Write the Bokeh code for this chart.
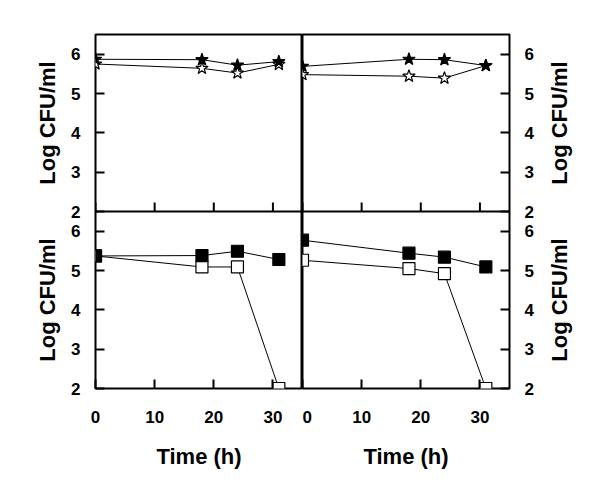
import math
from bokeh.plotting import figure
from bokeh.layouts import gridplot
from bokeh.models import (FixedTicker, LinearAxis, Range1d, Span,
                          CustomJSTickFormatter)
from bokeh.core.properties import value
from bokeh.embed import file_html
from bokeh.resources import INLINE

# ---- data ----
time_h = [0, 18, 24, 31]
tl_filled = [5.87, 5.86, 5.72, 5.81]
tl_open = [5.75, 5.64, 5.52, 5.74]
tr_filled = [5.69, 5.87, 5.86, 5.71]
tr_open = [5.48, 5.44, 5.39, 5.71]
bl_filled = [5.37, 5.38, 5.49, 5.28]
bl_open = [5.37, 5.09, 5.09, 2.0]
br_filled = [5.77, 5.44, 5.34, 5.09]
br_open = [5.26, 5.05, 4.92, 2.0]
x_ticks = [0, 10, 20, 30]
y_ticks = [2, 3, 4, 5, 6]
x_limits = (0, 35)
y_limits = (2, 6.5)
y_label = "Log CFU/ml"
x_label = "Time (h)"

FONT = "Liberation Sans"
SPAN = y_limits[1] - y_limits[0]          # height of one panel in data units
FULL = (y_limits[0], y_limits[1] + SPAN)   # bottom panel + stacked top panel
TOP_RANGE = (y_limits[0] - SPAN, y_limits[1])

H = 478
TOP_B, BOT_B = 34, 90


def base_fig(width, left, right, xr=None):
    p = figure(width=width, height=H,
               x_range=Range1d(*(xr or x_limits)), y_range=Range1d(*FULL),
               output_backend="svg", toolbar_location=None,
               x_axis_location=None, y_axis_location=None,
               min_border_left=left, min_border_right=right,
               min_border_top=TOP_B, min_border_bottom=BOT_B)
    for g in p.grid:
        g.visible = False
    p.background_fill_color = "white"
    p.border_fill_color = "white"
    return p


def style_axis(ax):
    ax.axis_line_color = None
    ax.major_tick_in = 9
    ax.major_tick_out = 0
    ax.major_tick_line_width = 2
    ax.major_tick_line_color = "black"
    ax.minor_tick_line_color = None
    ax.major_label_text_font = FONT
    ax.major_label_text_font_style = "bold"
    ax.major_label_text_color = "black"
    ax.major_label_text_font_size = "17px"
    ax.axis_label_text_font = FONT
    ax.axis_label_text_font_style = "bold"
    ax.axis_label_text_font_size = "22px"
    ax.axis_label_text_color = "black"
    return ax


def panel_fig(width, left, right, side, bottom_open, bottom_filled,
              top_open, top_filled):
    p = base_fig(width, left, right)
    p.outline_line_color = "black"
    p.outline_line_width = 2
    p.extra_y_ranges = {"top": Range1d(*TOP_RANGE)}

    # y axis: ticks of the lower panel and of the stacked upper panel
    yt = list(y_ticks) + [t + SPAN for t in y_ticks]
    yax = LinearAxis(ticker=FixedTicker(ticks=yt))
    yax.formatter = CustomJSTickFormatter(
        args=dict(split=y_limits[1], span=SPAN),
        code="const v = (tick >= split - 1e-6) ? tick - span : tick; return v.toFixed(0);")
    style_axis(yax)
    yax.major_label_standoff = 15
    p.add_layout(yax, side)

    # x axis of the lower panel
    xax = LinearAxis(ticker=FixedTicker(ticks=x_ticks), axis_label=x_label)
    style_axis(xax)
    xax.major_label_standoff = 22
    xax.axis_label_standoff = 18
    p.add_layout(xax, "below")

    # boundary line between the two panels
    p.add_layout(Span(location=y_limits[1], dimension="width",
                      line_color="black", line_width=2))
    # inward x ticks on the bottom edge of the upper panel
    p.ray(x=x_ticks, y=[y_limits[0]] * len(x_ticks), length=9,
          length_units="screen", angle=math.pi / 2,
          line_color="black", line_width=2, y_range_name="top")

    # lower panel: squares
    p.line(time_h, bottom_open, line_color="black", line_width=1)
    p.line(time_h, bottom_filled, line_color="black", line_width=1)
    p.scatter(time_h, bottom_open, marker="square", size=12,
              fill_color="white", line_color="black", line_width=1.2)
    p.scatter(time_h, bottom_filled, marker="square", size=12,
              fill_color="black", line_color="black", line_width=1.2)
    # upper panel: stars
    p.line(time_h, top_open, line_color="black", line_width=1, y_range_name="top")
    p.line(time_h, top_filled, line_color="black", line_width=1, y_range_name="top")
    p.scatter(time_h, top_open, marker="star", size=13, fill_color="white",
              line_color="black", line_width=1.2, y_range_name="top")
    p.scatter(time_h, top_filled, marker="star", size=13, fill_color="black",
              line_color="black", line_width=1.2, y_range_name="top")
    return p


def label_fig(width, left):
    p = base_fig(width, left, 0, xr=(0, 1))
    p.outline_line_color = None
    c = (y_limits[0] + y_limits[1]) / 2
    p.text(x=[0.5, 0.5], y=[c, c + SPAN], text=[y_label, y_label],
           angle=math.pi / 2, text_align="center", text_baseline="middle",
           text_font=value(FONT), text_font_style="bold",
           text_font_size="22px", text_color="black")
    return p


lab_l = label_fig(64, 30)
left = panel_fig(238, 31, 0, "left", bl_open, bl_filled, tl_open, tl_filled)
right = panel_fig(237, 0, 30, "right", br_open, br_filled, tr_open, tr_filled)
lab_r = label_fig(40, 0)

grid = gridplot([[lab_l, left, right, lab_r]], toolbar_location=None)

open("out.html", "w").write(file_html(grid, INLINE))
